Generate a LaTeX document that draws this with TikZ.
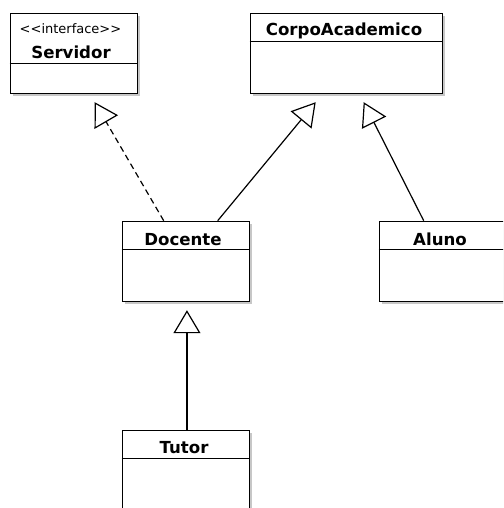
\documentclass[tikz,border=0pt]{standalone}
\usepackage{fontspec}
\setmainfont{DejaVu Sans}
\usetikzlibrary{arrows.meta,shadows}
\begin{document}
\begin{tikzpicture}[x=1pt,y=-1pt,
  umlbox/.style={draw=black, line width=1.5pt, fill=white, rectangle, inner sep=0pt,
    minimum width=127pt, minimum height=80pt, anchor=north west,
    drop shadow={shadow xshift=2.5pt, shadow yshift=-2.5pt, fill=black!22, opacity=1}},
  cname/.style={font=\fontsize{16.6}{19}\selectfont\bfseries, anchor=base, inner sep=0pt},
  stereo/.style={font=\fontsize{13}{15}\selectfont, anchor=base, inner sep=0pt},
  divider/.style={line width=1.3pt},
  gen/.style={line width=1.2pt, -{Triangle[open, length=23pt, width=27pt, line width=1.2pt]}},
  real/.style={gen, dash pattern=on 6pt off 4pt}
]
\useasboundingbox (0,0) rectangle (503,508);
\clip (0,0) rectangle (503,508);

% boxes
\node[umlbox, minimum width=127pt] (servidor) at (9.7,12.7) {};
\node[umlbox, minimum width=192pt] (corpo) at (249.7,12.7) {};
\node[umlbox] (docente) at (121.7,220.7) {};
\node[umlbox] (aluno) at (378.7,220.7) {};
\node[umlbox] (tutor) at (121.7,429.7) {};

% dividers
\draw[divider] ([yshift=-50.5pt]servidor.north west) -- ([yshift=-50.5pt]servidor.north east);
\draw[divider] ([yshift=-28.5pt]corpo.north west) -- ([yshift=-28.5pt]corpo.north east);
\draw[divider] ([yshift=-28.5pt]docente.north west) -- ([yshift=-28.5pt]docente.north east);
\draw[divider] ([yshift=-28.5pt]aluno.north west) -- ([yshift=-28.5pt]aluno.north east);
\draw[divider] ([yshift=-28.5pt]tutor.north west) -- ([yshift=-28.5pt]tutor.north east);

% labels
\node[stereo] (st) at (70.5,34) {<{}<interface>{}>};
\node[cname] (lserv) at (71,59) {Servidor};
\node[cname] (lcorpo) at (344,36) {CorpoAcademico};
\node[cname] (ldoc) at (183,245) {Docente};
\node[cname] (lalu) at (440,245) {Aluno};
\node[cname] (ltut) at (184,453) {Tutor};

% connector end points
\coordinate (tServ) at ([shift={(85pt,-8pt)}]servidor.south west);
\coordinate (tCorpoA) at ([shift={(66pt,-8pt)}]corpo.south west);
\coordinate (tCorpoB) at ([shift={(114pt,-8pt)}]corpo.south west);
\coordinate (tDoc) at ([shift={(1pt,-8pt)}]docente.south);
\coordinate (sDocA) at ([xshift=42pt]docente.north west);
\coordinate (sDocB) at ([xshift=96pt]docente.north west);
\coordinate (sAlu) at ([xshift=45pt]aluno.north west);
\coordinate (sTut) at ([xshift=1pt]tutor.north);

% connectors
\draw[real] (sDocA) -- (tServ);
\draw[gen] (sDocB) -- (tCorpoA);
\draw[gen] (sAlu) -- (tCorpoB);
\draw[gen] (sTut) -- (tDoc);
\end{tikzpicture}
\end{document}
